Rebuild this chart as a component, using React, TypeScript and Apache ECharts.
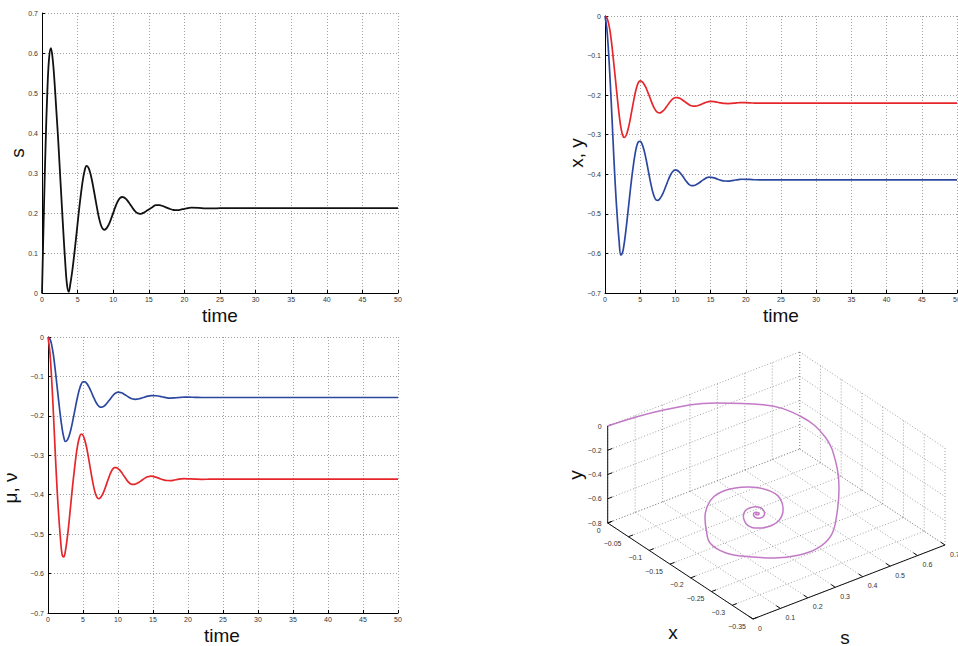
import React, { useEffect, useRef } from "react";
import * as echarts from "echarts";

// ---------------- data ----------------
const TIME = [
  0, 0.25, 0.5, 0.75, 1, 1.25, 1.5, 1.75, 2, 2.25, 2.5, 2.75, 3, 3.25, 3.5, 3.75, 4, 4.25, 4.5, 4.75, 5,
  5.25, 5.5, 5.75, 6, 6.25, 6.5, 6.75, 7, 7.25, 7.5, 7.75, 8, 8.25, 8.5, 8.75, 9, 9.25, 9.5, 9.75, 10,
  10.25, 10.5, 10.75, 11, 11.25, 11.5, 11.75, 12, 12.25, 12.5, 12.75, 13, 13.25, 13.5, 13.75, 14, 14.25, 14.5, 14.75, 15,
  15.5, 16, 16.5, 17, 17.5, 18, 18.5, 19, 19.5, 20,
  21, 22, 23, 24, 25,
  30, 35, 40, 45, 50,
];

const S_VALUES = [
  0, 0.194, 0.367, 0.504, 0.588, 0.612, 0.585, 0.53, 0.46, 0.39, 0.31, 0.23, 0.152, 0.08, 0.022, 0.003, 0.025, 0.055, 0.092, 0.132, 0.174,
  0.215, 0.252, 0.284, 0.307, 0.318, 0.314, 0.3017, 0.283, 0.26, 0.235, 0.2102, 0.188, 0.1713, 0.161, 0.158, 0.1606, 0.1669, 0.176, 0.1877, 0.2,
  0.2127, 0.224, 0.2326, 0.238, 0.24, 0.239, 0.2358, 0.231, 0.225, 0.2185, 0.212, 0.206, 0.2016, 0.199, 0.198, 0.1987, 0.2004, 0.203, 0.2061, 0.209,
  0.2145, 0.2195, 0.2195, 0.217, 0.2135, 0.21, 0.2075, 0.207, 0.2085, 0.2105,
  0.2135, 0.213, 0.2115, 0.2115, 0.212,
  0.212, 0.212, 0.212, 0.212, 0.212,
];

const X_VALUES = [
  0, -0.004, -0.018, -0.042, -0.078, -0.12, -0.163, -0.207, -0.248, -0.281, -0.301, -0.307, -0.302, -0.288, -0.269, -0.245, -0.221, -0.198, -0.18, -0.168, -0.164,
  -0.1657, -0.171, -0.1787, -0.189, -0.2002, -0.212, -0.2232, -0.233, -0.2399, -0.244, -0.2449, -0.243, -0.2399, -0.235, -0.229, -0.2227, -0.2167, -0.2116, -0.208, -0.2062,
  -0.2062, -0.2073, -0.2093, -0.2121, -0.2153, -0.2187, -0.2219, -0.2247, -0.2267, -0.2278, -0.2279, -0.2274, -0.2262, -0.2245, -0.2226, -0.2206, -0.2188, -0.2173, -0.2163, -0.216,
  -0.2165, -0.218, -0.2197, -0.221, -0.2213, -0.2208, -0.22, -0.2192, -0.2188, -0.219,
  -0.2198, -0.2203, -0.2202, -0.22, -0.22,
  -0.22, -0.22, -0.22, -0.22, -0.22,
];

const Y_VALUES = [
  0, -0.03, -0.09, -0.17, -0.26, -0.355, -0.44, -0.51, -0.568, -0.604, -0.597, -0.572, -0.537, -0.497, -0.456, -0.416, -0.381, -0.351, -0.329, -0.318, -0.3166,
  -0.3231, -0.3363, -0.3549, -0.377, -0.4004, -0.423, -0.4425, -0.4567, -0.4647, -0.4657, -0.4626, -0.4563, -0.4474, -0.4367, -0.4252, -0.4138, -0.4037, -0.3958, -0.3908, -0.389,
  -0.3901, -0.3931, -0.3979, -0.4038, -0.4103, -0.4167, -0.4222, -0.4263, -0.4286, -0.4289, -0.4278, -0.4259, -0.4232, -0.42, -0.4166, -0.4134, -0.4106, -0.4085, -0.4074, -0.4076,
  -0.409, -0.4125, -0.4155, -0.417, -0.4172, -0.416, -0.4145, -0.4133, -0.4125, -0.4127,
  -0.4135, -0.4142, -0.4143, -0.414, -0.414,
  -0.414, -0.414, -0.414, -0.414, -0.414,
];

const MU_VALUES = [
  0, -0.035, -0.1, -0.185, -0.28, -0.37, -0.445, -0.505, -0.55, -0.558, -0.541, -0.51, -0.47, -0.425, -0.38, -0.34, -0.302, -0.273, -0.254, -0.246, -0.2495,
  -0.261, -0.279, -0.3027, -0.3285, -0.3544, -0.3775, -0.3957, -0.4068, -0.41, -0.4073, -0.4007, -0.3908, -0.3788, -0.3658, -0.3534, -0.3427, -0.3351, -0.3314, -0.3314, -0.3337,
  -0.3378, -0.3433, -0.3498, -0.3565, -0.3628, -0.3682, -0.372, -0.3738, -0.3738, -0.3728, -0.3709, -0.3684, -0.3654, -0.3622, -0.3592, -0.3565, -0.3545, -0.3533, -0.353, -0.3535,
  -0.356, -0.3595, -0.3625, -0.364, -0.3642, -0.363, -0.3612, -0.36, -0.3594, -0.3597,
  -0.3605, -0.361, -0.3607, -0.3603, -0.3603,
  -0.3603, -0.3603, -0.3603, -0.3603, -0.3603,
];

const NU_VALUES = [
  0, -0.004, -0.018, -0.043, -0.078, -0.118, -0.158, -0.197, -0.23, -0.254, -0.265, -0.2616, -0.2515, -0.2359, -0.216, -0.1936, -0.1708, -0.1496, -0.132, -0.1197, -0.1135,
  -0.1136, -0.1171, -0.1235, -0.132, -0.142, -0.1523, -0.1619, -0.1698, -0.1753, -0.1779, -0.1775, -0.1752, -0.1714, -0.1663, -0.1604, -0.1545, -0.149, -0.1444, -0.1413, -0.14,
  -0.1403, -0.1416, -0.1437, -0.1463, -0.1493, -0.1522, -0.1548, -0.1567, -0.1578, -0.158, -0.1575, -0.1567, -0.1555, -0.1541, -0.1527, -0.1512, -0.15, -0.1491, -0.1486, -0.1485,
  -0.149, -0.1505, -0.1525, -0.1543, -0.1548, -0.1545, -0.1538, -0.153, -0.1525, -0.1525,
  -0.153, -0.1535, -0.1535, -0.1535, -0.1535,
  -0.1535, -0.1535, -0.1535, -0.1535, -0.1535,
];

// 3D panel ticks
const S3_TICKS = [0, 0.1, 0.2, 0.3, 0.4, 0.5, 0.6, 0.7];
const X3_TICKS = [0, -0.05, -0.1, -0.15, -0.2, -0.25, -0.3, -0.35];
const Y3_TICKS = [0, -0.2, -0.4, -0.6, -0.8];
const S3_MAX = 0.7;
const X3_MIN = -0.35;
const Y3_MIN = -0.8;
const Y3_MAX = 0;

// ---------------- styling / layout ----------------
const FONT = "'Liberation Sans', Arial, Helvetica, sans-serif";
const RED = "#e5262b";
const BLUE = "#2c47a0";
const PURPLE = "#c27ac6";
const GRID_LINE = { type: [1, 2] as any, color: "#8a8a8a", width: 0.8 };

// 3D box screen vectors (pixel lengths along each full axis range)
const BOX_W = 337.3;
const BOX_H = 267;
const ORIGIN = [0, 96];
const EX = [145.3, -96];
const ES = [192, 74];
const EY = [0, 97];

function proj(s: number, x: number, y: number): [number, number] {
  const fx = x / X3_MIN;
  const fs = s / S3_MAX;
  const fy = (y - Y3_MIN) / (Y3_MAX - Y3_MIN);
  return [
    ORIGIN[0] + EX[0] * fx + ES[0] * fs + EY[0] * fy,
    ORIGIN[1] + EX[1] * fx + ES[1] * fs + EY[1] * fy,
  ];
}

const fmt = (v: number) => {
  const r = Math.round(v * 1000) / 1000;
  if (r === 0) return "0";
  return r < 0 ? "\u2212" + String(-r) : String(r);
};

function mkX(gridIndex: number) {
  return {
    type: "value",
    gridIndex,
    min: 0,
    max: 50,
    interval: 5,
    axisLine: { show: true, onZero: false, lineStyle: { color: "#000", width: 1 } },
    axisTick: { show: true, inside: true, length: 3, lineStyle: { color: "#000" } },
    axisLabel: { fontSize: 7, color: "#333", margin: 3, fontFamily: FONT, formatter: fmt },
    splitLine: { show: true, lineStyle: GRID_LINE },
  };
}

function mkY(gridIndex: number, min: number, max: number) {
  return {
    type: "value",
    gridIndex,
    min,
    max,
    interval: 0.1,
    axisLine: { show: true, onZero: false, lineStyle: { color: "#000", width: 1 } },
    axisTick: { show: true, inside: true, length: 3, lineStyle: { color: "#000" } },
    axisLabel: { fontSize: 7, color: "#333", margin: 4, fontFamily: FONT, formatter: fmt },
    splitLine: { show: true, lineStyle: GRID_LINE },
  };
}

function pairs(vals: number[]) {
  return TIME.map((t, i) => [t, vals[i]]);
}

function title(text: string, x: number, y: number, rotate = false) {
  return {
    type: "text",
    x,
    y,
    rotation: rotate ? Math.PI / 2 : 0,
    silent: true,
    style: {
      text,
      fontSize: 19,
      fontFamily: FONT,
      fill: "#111",
      align: "center",
      verticalAlign: "middle",
      textAlign: "center",
      textVerticalAlign: "middle",
    },
  };
}

function renderBox(params: any, api: any) {
  const P = (s: number, x: number, y: number) => api.coord(proj(s, x, y));
  const children: any[] = [];
  const seg = (a: number[], b: number[], solid = false) =>
    children.push({
      type: "line",
      silent: true,
      shape: { x1: a[0], y1: a[1], x2: b[0], y2: b[1] },
      style: solid
        ? { stroke: "#111", lineWidth: 1 }
        : { stroke: "#8a8a8a", lineWidth: 0.8, lineDash: [1, 2] },
    });
  const label = (text: string, p: number[], dx: number, dy: number, align: string) =>
    children.push({
      type: "text",
      silent: true,
      x: p[0] + dx,
      y: p[1] + dy,
      style: {
        text,
        fontSize: 7,
        fontFamily: FONT,
        fill: "#333",
        align,
        verticalAlign: "middle",
        textAlign: align,
        textVerticalAlign: "middle",
      },
    });

  // floor (y = min)
  X3_TICKS.forEach((xt) => seg(P(0, xt, Y3_MIN), P(S3_MAX, xt, Y3_MIN)));
  S3_TICKS.forEach((st) => seg(P(st, 0, Y3_MIN), P(st, X3_MIN, Y3_MIN)));
  // back wall x = 0
  Y3_TICKS.forEach((yt) => seg(P(0, 0, yt), P(S3_MAX, 0, yt)));
  S3_TICKS.forEach((st) => seg(P(st, 0, Y3_MIN), P(st, 0, Y3_MAX)));
  // back wall s = max
  Y3_TICKS.forEach((yt) => seg(P(S3_MAX, 0, yt), P(S3_MAX, X3_MIN, yt)));
  X3_TICKS.forEach((xt) => seg(P(S3_MAX, xt, Y3_MIN), P(S3_MAX, xt, Y3_MAX)));

  // solid axes
  seg(P(0, 0, Y3_MIN), P(0, 0, Y3_MAX), true);
  seg(P(0, 0, Y3_MIN), P(0, X3_MIN, Y3_MIN), true);
  seg(P(0, X3_MIN, Y3_MIN), P(S3_MAX, X3_MIN, Y3_MIN), true);

  // ticks + labels
  Y3_TICKS.forEach((yt) => {
    seg(P(0, 0, yt), P(0.017, 0, yt), true);
    label(fmt(yt), P(0, 0, yt), -6, 0, "right");
  });
  X3_TICKS.forEach((xt) => {
    seg(P(0, xt, Y3_MIN), P(0.017, xt, Y3_MIN), true);
    label(fmt(xt), P(0, xt, Y3_MIN), -7, 7, "right");
  });
  S3_TICKS.forEach((st) => {
    seg(P(st, X3_MIN, Y3_MIN), P(st, X3_MIN + 0.01, Y3_MIN), true);
    label(fmt(st), P(st, X3_MIN, Y3_MIN), 5, 9, "left");
  });

  return { type: "group", children };
}

export default function App() {
  const ref = useRef<HTMLDivElement>(null);

  useEffect(() => {
    if (!ref.current) return;
    const chart = echarts.init(ref.current, undefined, { renderer: "svg" });

    const lineSeries = (vals: number[], idx: number, color: string, width: number) => ({
      type: "line",
      xAxisIndex: idx,
      yAxisIndex: idx,
      data: pairs(vals),
      smooth: 0.4,
      showSymbol: false,
      symbol: "none",
      lineStyle: { color, width },
      silent: true,
    });

    const spiral = TIME.map((_, i) => proj(S_VALUES[i], X_VALUES[i], Y_VALUES[i]));

    chart.setOption({
      animation: false,
      backgroundColor: "#fff",
      grid: [
        { left: 42, top: 13, width: 356, height: 280, outerBoundsMode: "none" },
        { left: 605, top: 16, width: 352, height: 277, outerBoundsMode: "none" },
        { left: 48, top: 337, width: 350, height: 276, outerBoundsMode: "none" },
        { left: 607.7, top: 352, width: BOX_W, height: BOX_H, outerBoundsMode: "none" },
      ],
      xAxis: [
        mkX(0),
        mkX(1),
        mkX(2),
        { type: "value", gridIndex: 3, min: 0, max: BOX_W, show: false },
      ],
      yAxis: [
        mkY(0, 0, 0.7),
        mkY(1, -0.7, 0),
        mkY(2, -0.7, 0),
        { type: "value", gridIndex: 3, min: 0, max: BOX_H, show: false },
      ],
      series: [
        lineSeries(S_VALUES, 0, "#111", 1.8),
        lineSeries(X_VALUES, 1, RED, 1.7),
        lineSeries(Y_VALUES, 1, BLUE, 1.7),
        lineSeries(NU_VALUES, 2, BLUE, 1.7),
        lineSeries(MU_VALUES, 2, RED, 1.7),
        {
          type: "custom",
          xAxisIndex: 3,
          yAxisIndex: 3,
          data: [[0, 0]],
          renderItem: renderBox,
          silent: true,
        },
        {
          type: "line",
          xAxisIndex: 3,
          yAxisIndex: 3,
          data: spiral,
          smooth: 0.4,
          showSymbol: false,
          symbol: "none",
          lineStyle: { color: PURPLE, width: 1.5 },
          silent: true,
          clip: false,
        },
      ],
      graphic: [
        title("s", 17, 153, true),
        title("time", 220, 315),
        title("x, y", 576, 153, true),
        title("time", 781, 315),
        title("\u03bc, \u03bd", 10, 488, true),
        title("time", 222, 635),
        title("y", 575, 475, true),
        title("x", 673, 632),
        title("s", 845, 637),
      ],
    });

    return () => chart.dispose();
  }, []);

  return (
    <div
      ref={ref}
      style={{ position: "absolute", left: 0, top: 0, width: 958, height: 646 }}
    />
  );
}
